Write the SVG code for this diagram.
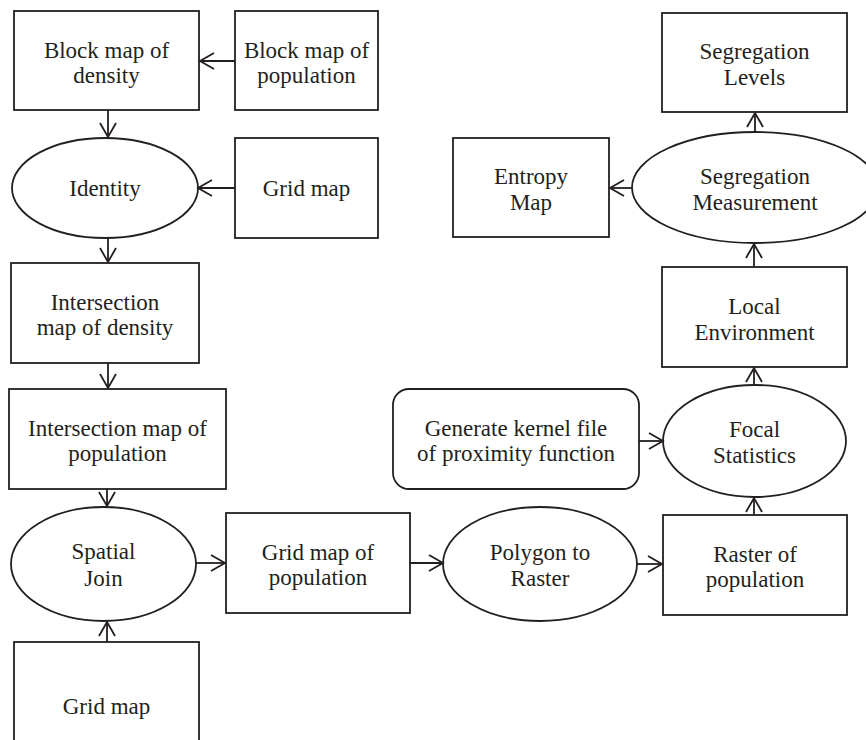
<svg xmlns="http://www.w3.org/2000/svg" width="866" height="740" viewBox="0 0 866 740">
<style>
.n{fill:#fff;stroke:#231f20;stroke-width:1.8}
.t{font-family:"Liberation Serif","Times New Roman",serif;font-size:23px;fill:#231f20;text-anchor:middle}
.c{fill:none;stroke:#231f20;stroke-width:1.8;marker-end:url(#ah)}
</style>
<defs>
<marker id="ah" markerUnits="userSpaceOnUse" markerWidth="18" markerHeight="20" refX="15" refY="9" orient="auto">
<path d="M1,1 L15,9 L1,17" fill="none" stroke="#231f20" stroke-width="1.8"/>
</marker>
</defs>
<rect width="866" height="740" fill="#fff"/>
<g id="n1"><rect class="n" x="14" y="11" width="185" height="99"/><text class="t" x="106.5" y="57.5">Block map of</text><text class="t" x="106.5" y="83">density</text></g>
<g id="n2"><rect class="n" x="235" y="11" width="143" height="99"/><text class="t" x="306.5" y="57.5">Block map of</text><text class="t" x="306.5" y="83">population</text></g>
<g id="n3"><ellipse class="n" cx="105" cy="188" rx="93" ry="50"/><text class="t" x="105" y="196">Identity</text></g>
<g id="n4"><rect class="n" x="235" y="138" width="143" height="100"/><text class="t" x="306.5" y="196">Grid map</text></g>
<g id="n5"><rect class="n" x="11" y="263" width="188" height="100"/><text class="t" x="105" y="310">Intersection</text><text class="t" x="105" y="335">map of density</text></g>
<g id="n6"><rect class="n" x="9" y="389" width="217" height="100"/><text class="t" x="117.5" y="436">Intersection map of</text><text class="t" x="117.5" y="461">population</text></g>
<g id="n7"><ellipse class="n" cx="103.5" cy="564" rx="92.5" ry="57"/><text class="t" x="103.5" y="559">Spatial</text><text class="t" x="103.5" y="586">Join</text></g>
<g id="n8"><rect class="n" x="14" y="642" width="185" height="120"/><text class="t" x="106.5" y="714">Grid map</text></g>
<g id="n9"><rect class="n" x="226" y="513" width="184" height="100"/><text class="t" x="318" y="560">Grid map of</text><text class="t" x="318" y="585">population</text></g>
<g id="n10"><ellipse class="n" cx="540" cy="564" rx="97" ry="57"/><text class="t" x="540" y="560">Polygon to</text><text class="t" x="540" y="586">Raster</text></g>
<g id="n11"><rect class="n" x="663" y="515" width="184" height="100"/><text class="t" x="755" y="562">Raster of</text><text class="t" x="755" y="587">population</text></g>
<g id="n12"><ellipse class="n" cx="754.5" cy="441" rx="91.5" ry="56"/><text class="t" x="754.5" y="437">Focal</text><text class="t" x="754.5" y="463">Statistics</text></g>
<g id="n13"><rect class="n" x="393" y="389" width="246" height="100" rx="16"/><text class="t" x="516" y="436">Generate kernel file</text><text class="t" x="516" y="461">of proximity function</text></g>
<g id="n14"><rect class="n" x="662" y="267" width="185" height="100"/><text class="t" x="754.5" y="314">Local</text><text class="t" x="754.5" y="340">Environment</text></g>
<g id="n15"><ellipse class="n" cx="755" cy="187.5" rx="123" ry="55.5"/><text class="t" x="755" y="184">Segregation</text><text class="t" x="755" y="210">Measurement</text></g>
<g id="n16"><rect class="n" x="662" y="13" width="185" height="99"/><text class="t" x="754.5" y="59">Segregation</text><text class="t" x="754.5" y="85">Levels</text></g>
<g id="n17"><rect class="n" x="453" y="138" width="156" height="99"/><text class="t" x="531" y="184">Entropy</text><text class="t" x="531" y="210">Map</text></g>
<g id="connectors">
<line class="c" x1="235" y1="61" x2="200" y2="61"/>
<line class="c" x1="108" y1="110" x2="108" y2="137"/>
<line class="c" x1="235" y1="188" x2="198" y2="188"/>
<line class="c" x1="108" y1="238" x2="108" y2="262"/>
<line class="c" x1="108" y1="363" x2="108" y2="388"/>
<line class="c" x1="107" y1="489" x2="107" y2="506"/>
<line class="c" x1="107" y1="642" x2="107" y2="622"/>
<line class="c" x1="196" y1="563" x2="225" y2="563"/>
<line class="c" x1="410" y1="563" x2="443" y2="563"/>
<line class="c" x1="637" y1="564" x2="662" y2="564"/>
<line class="c" x1="754" y1="515" x2="754" y2="498"/>
<line class="c" x1="639" y1="441" x2="663" y2="441"/>
<line class="c" x1="754" y1="385" x2="754" y2="368"/>
<line class="c" x1="754" y1="267" x2="754" y2="244"/>
<line class="c" x1="755" y1="132" x2="755" y2="113"/>
<line class="c" x1="632" y1="188" x2="610" y2="188"/>
</g>
</svg>
